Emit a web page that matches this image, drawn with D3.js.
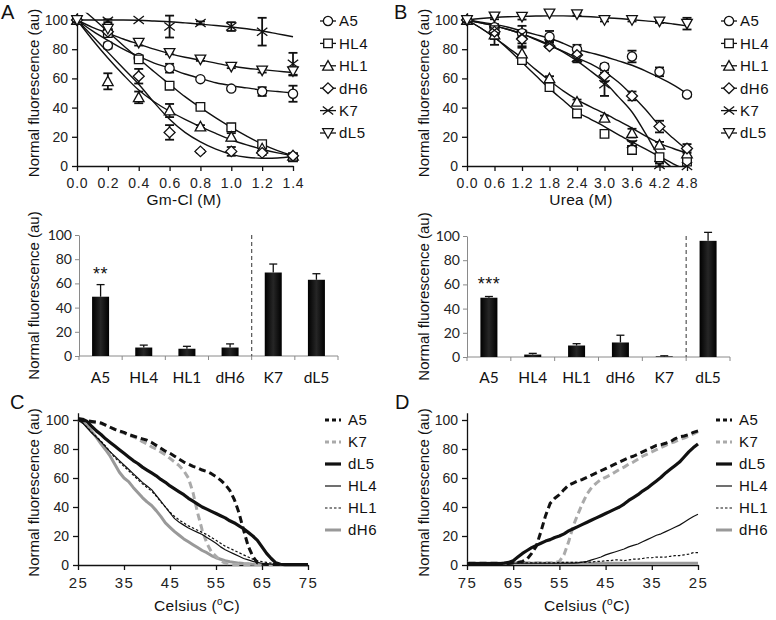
<!DOCTYPE html>
<html><head><meta charset="utf-8">
<script src="https://cdn.jsdelivr.net/npm/d3@7"></script>
<style>
body{margin:0;background:#fff;}
svg text{font-family:"Liberation Sans",Arial,sans-serif;fill:#111;}
</style></head><body>
<svg id="fig" width="776" height="620"></svg>
<script>
// ---------------- DATA ----------------
const seriesNames = ["A5","HL4","HL1","dH6","K7","dL5"];

// Panel A (Gm-Cl titration)
const gmConc   = [0,0.2,0.4,0.6,0.8,1.0,1.2,1.4];
const gmA5     = [100,82.5,74,67,59.5,53,51,49.5];
const gmA5Err  = [0,2,1.5,3,1,1,3,5.5];
const gmHL4    = [100,91,73,55,40.5,26.5,15,6];
const gmHL4Err = [0,2,2,1.5,1,1.5,1.5,1.5];
const gmHL1    = [100,58,47,38,27,20,12,7];
const gmHL1Err = [0,5.5,4,4.5,1,2.5,1.5,1.5];
const gmDH6    = [100,92,61.5,23,10,10,9,7];
const gmDH6Err = [0,1,5,5,1,3,1.5,1];
const gmK7     = [100,99.5,100,95.5,98,95.5,92,70];
const gmK7Err  = [0,1,0.5,7.5,1,3,9.5,7.5];
const gmDL5    = [100,94,84.5,77.5,73,68,65.5,65];
const gmDL5Err = [0,2,2,1,1,1,1.5,3];
const gmFitX   = [0,0.1,0.2,0.3,0.4,0.5,0.6,0.7,0.8,0.9,1.0,1.1,1.2,1.3,1.4];
const gmFitA5  = [100,92.5,86,80,75,70.5,67,63,60,57,55,53.5,52,51,50];
const gmFitHL4 = [110.5,101.5,92,82.5,73.5,64.5,56,47.5,40,33,26.5,20.5,15,10.5,7];
const gmFitHL1 = [100,86.5,74,62.5,52,44,37.5,32,27,22.3,18,14.5,11.5,9,7];
const gmFitDH6 = [100,89,78,67,56,43.5,32,23,16.5,11.5,8,6,5.3,5.5,6.5];
const gmFitK7  = [100,100,100,100,99.8,99.3,98.8,98,97.2,96.2,95.2,94,92.5,90.5,88.5];
const gmFitDL5 = [100,95,91,87,83.5,80,77,74.5,72.5,70.5,68.5,67,66,65,64];
const gmTicks  = [0,0.2,0.4,0.6,0.8,1.0,1.2,1.4];

// Panel B (Urea titration)
const ureaConc   = [0,0.6,1.2,1.8,2.4,3.0,3.6,4.2,4.8];
const ureaA5     = [100,95,91,88.5,80,68,75,64.5,49];
const ureaA5Err  = [0,2,2,4,3,2,4,3,1.5];
const ureaHL4    = [100,93,72.5,54,36,22,11,6,3];
const ureaHL4Err = [0,4,2,1,2,1,1,1,1];
const ureaHL1    = [100,90,77,60,44,33,22.5,14.5,8.5];
const ureaHL1Err = [0,3,4,1.5,1.5,1.5,3,2,2];
const ureaDH6    = [100,92,87,82,76,62,48,27,12];
const ureaDH6Err = [0,3,5,1,4,4,3,4,3];
const ureaK7     = [100,93,90,84,74,56,15,0.7,0];
const ureaK7Err  = [0,10,6,1,3,8,2,1,0.5];
const ureaDL5    = [100,102.5,102.3,104.5,104,100,100,99,97.5];
const ureaDL5Err = [0,2,2,0.5,1,1,1,1,4];
const ureaFitX   = [0,0.3,0.6,0.9,1.2,1.5,1.8,2.1,2.4,2.7,3.0,3.3,3.6,3.9,4.2,4.5,4.8];
const ureaFitA5  = [100,98.5,97,95,92.5,90,87.5,84,80,77.5,75,72,69,65,60.5,55.5,49.5];
const ureaFitHL4 = [100,94.5,88,80,71,62,53,45,37,32,27,21.5,16.5,11.5,6.5,1.5,-3];
const ureaFitHL1 = [100,94.5,88,81,74,66,58.5,51.5,45.5,40.5,36,31,26,20.5,15.5,12,8.7];
const ureaFitDH6 = [100,98,96,93.5,90.5,86.5,82.5,78.5,74,70,64.5,57.5,48.5,38.5,27.5,19,11];
const ureaFitK7  = [100,98,96,93.5,90.5,87,83,78,72,65,57.5,47.5,37,22,6.5,-2,-12];
const ureaFitDL5 = [100,101,101.7,102.2,102.5,102.7,102.8,102.8,102.6,102.2,101.6,101,100.2,99.4,98.5,97.3,96];
const ureaTicks  = [0,0.6,1.2,1.8,2.4,3.0,3.6,4.2,4.8];

// Bar panels
const barCats     = ["A5","HL4","HL1","dH6","K7","dL5"];
const gmBar       = [49,7,6,7,69,63];
const gmBarErr    = [10,2,2,3,7,5];
const gmBarSig    = ["**","","","","",""];
const ureaBar     = [49,2,9.5,12,0.5,96];
const ureaBarErr  = [1,1,1.5,6,0.5,7];
const ureaBarSig  = ["***","","","","",""];
const barTicks    = [0,20,40,60,80,100];

// Thermal panels (temperature grid, °C)
const temps = [25,26,27,28,29,30,31,32,33,34,35,36,37,38,39,40,41,42,43,44,45,46,47,48,49,50,
               51,52,53,54,55,56,57,58,59,60,61,62,63,64,65,66,67,68,69,70,71,72,73,74,75];
const thermLegend = ["A5","K7","dL5","HL4","HL1","dH6"];
// C: melting
const meltA5  = [100,99.5,99.5,99,98.5,98,96.5,95,93.5,92.5,91.5,90,89,88,87,86,84.5,82.5,80.5,78.5,77,75,73,71,69.5,68,
                 67,65.5,64.5,63,61,58.5,55.5,51.5,45,36,24,13,6,1.5,0.5,0.3,0.3,0.3,0.3,0.3,0.3,0.3,0.3,0.3,0.3];
const meltK7  = [100,99.5,99,98.5,98,97.5,96.5,95,93.5,92,91,89.5,88.5,87,85,83.5,81.5,80,78,76,73.5,71,68.5,65,60,50,
                 36,24,15,9,6,3,1.3,0.5,0.3,0.3,0.3,0.3,0.3,0.3,0.3,0.3,0.3,0.3,0.3,0.3,0.3,0.3,0.3,0.3,0.3];
const meltDL5 = [101,100.5,99,95.5,92.5,90,87,84.5,82,79.5,77,74.5,72,70,67.5,65.5,63.5,61.5,59,57,54.5,52.5,50.5,48.5,46,44,
                 42,40,38.5,37,35.5,34,32.5,30.5,29,27,25,22.5,20,17,12.5,8,4.5,1.5,0.5,0.3,0.3,0.3,0.3,0.3,0.3];
const meltHL4 = [100,98,94.5,91,88,85,81.5,78,75,72,69,66,63,60,57,54.5,52,48,44,40,36,32,29.5,27.5,25.5,24,
                 22.5,21,19,17,15,12.5,10.5,9,7.5,6,4.5,3.5,2.5,1.8,1.2,0.8,0.5,0.3,0.3,0.3,0.3,0.3,0.3,0.3,0.3];
const meltHL1 = [100,98,95,91.5,88.5,85.5,82,78,74,71,68,65,62,59,56,53.5,51,47.5,43.5,40,36.5,33.5,31,29,27,25.5,
                 24,22.5,21,19,17,15,13,11.5,10,8.5,7,5.5,4,3,2.3,1.8,1.3,1,0.8,0.8,0.8,0.8,1,0.8,0.8];
const meltDH6 = [100,98.5,96,92,88,83.5,79.5,75,69.5,64,60,57.5,53.5,50,46.5,43.5,41,37.5,33.5,29,26,23,20.5,18,16,14,
                 12,10,8.5,6.5,5,4,3,2.3,1.8,1.3,1,0.8,0.6,0.5,0.3,0.3,0.3,0.3,0.3,0.3,0.3,0.3,0.3,0.3,0.3];
// D: refolding (cooling 75 -> 25), values listed by temps
const foldA5  = [92.5,91.5,90,89,88.5,87,85,84,83,82.5,81,79.5,78,76.5,75,74,72.5,71,69.5,68,66.5,65,63.5,62,60.5,59,
                 58,56.5,55,52,48.5,46,42.5,34,23,13,8,4,2.5,1.8,1.3,1,1,1,1,1,1,1,1,1,1];
const foldK7  = [92,90.5,89,87.5,86.5,85,84,82.5,81,79.5,78,76.5,75,73,71,69.5,67.5,66,64,62,60.5,59,56.5,53.5,49,42.5,
                 35,27,16,7,2.5,1.5,1.5,1.5,1.5,1.5,1.5,1.5,1.5,1.5,1.5,1.5,1.5,1.5,1.5,1.5,1.5,1.5,1.5,1.5,1.5];
const foldDL5 = [83.5,81,78,74.5,71,68.5,66,63.5,60.5,58,55.5,53,51,48.5,46.5,44.5,42,40,38.5,37,35.5,34,32.5,31,29.5,28,
                 26.5,25,23.5,21.5,20,19,17.5,16.5,15,13.5,12,10,8,5.5,3,1.8,1.2,1,1,1,1,1,1,1,1];
const foldHL4 = [35,33.5,31.5,29.5,27.5,26,24.5,23,21.5,20.5,19,17.5,16,14.5,13.5,12.5,11,10,9,8,7,5.5,4.5,3.5,2.5,2,
                 1.5,1.3,1.2,1.2,1.2,1.2,1.2,1.2,1.2,1.2,1.2,1.2,1.2,1.2,1.2,1.2,1.2,1.2,1.2,1.2,1.2,1.2,1.2,1.2,1.2];
const foldHL1 = [8.5,8.5,7.5,7,6.5,6.5,6,5.5,5.5,5.5,5,5,4.5,4,4,3.5,3,3.5,3.5,3,3,2.5,2.5,2,2,1.8,
                 1.8,1.8,1.8,1.8,1.8,1.5,1.5,1.5,1.5,1.5,1.5,1.5,1.5,1.5,1.5,1.5,1.5,1.5,1.5,1.5,1.5,1.5,1.5,1.5,1.5];
const foldDH6 = [1.2,1.2,1.2,1.2,1.2,1.2,1.2,1.2,1.2,1.2,1.2,1.2,1.2,1.2,1.2,1.2,1.2,1.2,1.2,1.2,1.2,1.2,1.2,1.2,1.2,1.2,
                 1.2,1.2,1.2,1.2,1.2,1.2,1.2,1.2,1.2,1.2,1.2,1.2,1.2,1.2,1.2,1.2,1.2,1.2,1.2,1.2,1.2,1.2,1.2,1.2,1.2];
const cTicks = [25,35,45,55,65,75];
const dTicks = [75,65,55,45,35,25];

// ---------------- DRAWING ----------------
const svg = d3.select("#fig");
const defs = svg.append("defs");

const MARKERS = {
  circle:  "M-4.6,0A4.6,4.6 0 1,0 4.6,0A4.6,4.6 0 1,0 -4.6,0Z",
  square:  "M-4.3,-4.3H4.3V4.3H-4.3Z",
  triUp:   "M0,-5.2L5.3,4.3H-5.3Z",
  diamond: "M0,-5.3L5.5,0L0,5.3L-5.5,0Z",
  cross:   "M-5.2,-4L5.2,4M-5.2,4L5.2,-4",
  triDown: "M0,5.2L5.3,-4.3H-5.3Z"
};
const markerOf = {A5:"circle",HL4:"square",HL1:"triUp",dH6:"diamond",K7:"cross",dL5:"triDown"};

function styleAxis(g, size, color, family){
  g.attr("font-size", null).attr("font-family", null);
  g.selectAll("path.domain").attr("stroke", color).attr("stroke-width", 1.3);
  g.selectAll(".tick line").attr("stroke", color).attr("stroke-width", 1.3);
  g.selectAll(".tick text").attr("font-size", size).style("fill", "#222");
  if (family) g.selectAll(".tick text").style("font-family", family);
}

function drawTop(o){
  const g = svg.append("g");
  const x = d3.scaleLinear().domain([0, o.xMax]).range(o.xr);
  const y = d3.scaleLinear().domain([0, 105]).range([166, 166 - 1.46 * 105]);
  const cid = "clip" + o.id;
  defs.append("clipPath").attr("id", cid).append("rect")
    .attr("x", o.xr[0] - 3).attr("y", y(105)).attr("width", o.xr[1] - o.xr[0] + 6).attr("height", y(0) - y(105));

  const ya = g.append("g").attr("transform", `translate(${o.xr[0]},0)`)
    .call(d3.axisLeft(y).tickValues([0,20,40,60,80,100]).tickSize(5).tickPadding(4).tickSizeOuter(0));
  styleAxis(ya, 14, "#111");
  const xa = g.append("g").attr("transform", `translate(0,${y(0)})`)
    .call(d3.axisBottom(x).tickValues(o.ticks).tickFormat(d3.format(".1f")).tickSize(5).tickPadding(7).tickSizeOuter(0));
  styleAxis(xa, 14, "#111");
  xa.selectAll(".tick text").style("letter-spacing", "0.8px");

  const line = d3.line().x(d => x(d[0])).y(d => y(d[1])).curve(d3.curveCatmullRom);
  o.series.forEach(s => {
    g.append("path").datum(o.fitX.map((v, i) => [v, s.fit[i]]))
      .attr("clip-path", `url(#${cid})`).attr("d", line)
      .attr("fill", "none").attr("stroke", "#111").attr("stroke-width", 1.4);
  });
  o.series.forEach(s => {
    const pts = o.conc.map((c, i) => ({c, v: s.vals[i], e: s.err[i]}));
    const eg = g.append("g").attr("stroke", "#111").attr("stroke-width", 1.8);
    pts.filter(p => p.e > 0.8).forEach(p => {
      eg.append("line").attr("x1", x(p.c)).attr("x2", x(p.c)).attr("y1", y(p.v - p.e)).attr("y2", y(p.v + p.e));
      [p.v - p.e, p.v + p.e].forEach(v => eg.append("line")
        .attr("x1", x(p.c) - 4.5).attr("x2", x(p.c) + 4.5).attr("y1", y(v)).attr("y2", y(v)));
    });
  });
  o.series.forEach(s => {
    const mk = markerOf[s.name];
    g.append("g").selectAll("path").data(o.conc.map((c, i) => [c, s.vals[i]])).join("path")
      .attr("transform", d => `translate(${x(d[0])},${y(d[1])})`)
      .attr("d", MARKERS[mk]).attr("fill", mk === "cross" ? "none" : "#fff")
      .attr("stroke", "#111").attr("stroke-width", 1.3);
  });
  // legend
  const lg = g.append("g");
  o.series.forEach((s, i) => {
    const yy = 21 + i * 22.4;
    lg.append("line").attr("x1", o.lx - 8).attr("x2", o.lx + 8).attr("y1", yy).attr("y2", yy)
      .attr("stroke", "#111").attr("stroke-width", 1.3);
    const mk = markerOf[s.name];
    lg.append("path").attr("transform", `translate(${o.lx},${yy})`).attr("d", MARKERS[mk])
      .attr("fill", mk === "cross" ? "none" : "#fff").attr("stroke", "#111").attr("stroke-width", 1.3);
    lg.append("text").attr("x", o.lx + 11).attr("y", yy).attr("dy", "0.36em")
      .attr("font-size", 15).style("letter-spacing", "0.5px").text(s.name);
  });
  g.append("text").attr("transform", `translate(${o.ylx},${(y(0)+y(100))/2}) rotate(-90)`)
    .attr("text-anchor", "middle").attr("font-size", 15).text("Normal fluorescence (au)");
  g.append("text").attr("x", o.xlc).attr("y", 205).attr("text-anchor", "middle")
    .attr("font-size", 15.5).style("letter-spacing", "0.3px").text(o.xLabel);
}

drawTop({id:"A", xMax:1.4, xr:[77,293], ticks:gmTicks, conc:gmConc, fitX:gmFitX, lx:328, ylx:39, xlc:184,
  xLabel:"Gm-Cl (M)",
  series:[
    {name:"A5",  vals:gmA5,  err:gmA5Err,  fit:gmFitA5},
    {name:"HL4", vals:gmHL4, err:gmHL4Err, fit:gmFitHL4},
    {name:"HL1", vals:gmHL1, err:gmHL1Err, fit:gmFitHL1},
    {name:"dH6", vals:gmDH6, err:gmDH6Err, fit:gmFitDH6},
    {name:"K7",  vals:gmK7,  err:gmK7Err,  fit:gmFitK7},
    {name:"dL5", vals:gmDL5, err:gmDL5Err, fit:gmFitDL5}
  ]});

drawTop({id:"B", xMax:4.8, xr:[467,687], ticks:ureaTicks, conc:ureaConc, fitX:ureaFitX, lx:729, ylx:429, xlc:581,
  xLabel:"Urea (M)",
  series:[
    {name:"A5",  vals:ureaA5,  err:ureaA5Err,  fit:ureaFitA5},
    {name:"HL4", vals:ureaHL4, err:ureaHL4Err, fit:ureaFitHL4},
    {name:"HL1", vals:ureaHL1, err:ureaHL1Err, fit:ureaFitHL1},
    {name:"dH6", vals:ureaDH6, err:ureaDH6Err, fit:ureaFitDH6},
    {name:"K7",  vals:ureaK7,  err:ureaK7Err,  fit:ureaFitK7},
    {name:"dL5", vals:ureaDL5, err:ureaDL5Err, fit:ureaFitDL5}
  ]});

// bar gradient
const grad = defs.append("linearGradient").attr("id", "barGrad").attr("x1", "0").attr("x2", "1").attr("y1", "0").attr("y2", "0");
grad.append("stop").attr("offset", "0%").attr("stop-color", "#000");
grad.append("stop").attr("offset", "50%").attr("stop-color", "#262626");
grad.append("stop").attr("offset", "100%").attr("stop-color", "#000");

function drawBars(o){
  const g = svg.append("g");
  const x = d3.scaleBand().domain(barCats).range(o.xr).padding(0);
  const y = d3.scaleLinear().domain([0, 100]).range([o.y0, o.y1]);
  const ya = g.append("g").attr("transform", `translate(${o.xr[0]},0)`)
    .call(d3.axisLeft(y).tickValues(barTicks).tickSize(4).tickPadding(3).tickSizeOuter(0));
  styleAxis(ya, 14, "#8a8a8a", "Lato, 'Open Sans', sans-serif");
  ya.selectAll("path.domain, .tick line").attr("stroke-width", 1);
  const xa = g.append("g").attr("stroke", "#8a8a8a").attr("stroke-width", 1);
  xa.append("line").attr("x1", o.xr[0]).attr("x2", o.xr[1]).attr("y1", y(0)).attr("y2", y(0));
  barCats.concat(["__end"]).forEach((c, i) => {
    const xx = i < barCats.length ? x(c) : o.xr[1];
    xa.append("line").attr("x1", xx).attr("x2", xx).attr("y1", y(0)).attr("y2", y(0) + 4);
  });
  g.append("line").attr("x1", x(o.sep)).attr("x2", x(o.sep)).attr("y1", y(100)).attr("y2", y(0))
    .attr("stroke", "#555").attr("stroke-width", 1.2).attr("stroke-dasharray", "4,3");
  const bw = 17;
  barCats.forEach((c, i) => {
    const cx = x(c) + x.bandwidth() / 2;
    const v = o.vals[i], e = o.err[i];
    g.append("rect").attr("x", cx - bw / 2).attr("y", y(v)).attr("width", bw).attr("height", y(0) - y(v))
      .attr("fill", "url(#barGrad)");
    if (e > 0) {
      g.append("line").attr("x1", cx).attr("x2", cx).attr("y1", y(v)).attr("y2", y(v + e)).attr("stroke", "#111").attr("stroke-width", 1.3);
      g.append("line").attr("x1", cx - 4).attr("x2", cx + 4).attr("y1", y(v + e)).attr("y2", y(v + e)).attr("stroke", "#111").attr("stroke-width", 1.3);
    }
    if (o.sig[i]) g.append("text").attr("x", cx).attr("y", o.sigY).attr("text-anchor", "middle")
      .attr("font-size", 18).style("letter-spacing", "0.5px").text(o.sig[i]);
    g.append("text").attr("x", cx).attr("y", 383).attr("text-anchor", "middle")
      .style("font-family", "Lato, sans-serif").attr("font-size", 15.5).text(c);
  });
  g.append("text").attr("transform", `translate(${o.ylx},${(y(0)+y(100))/2}) rotate(-90)`)
    .attr("text-anchor", "middle").attr("font-size", 15).text("Normal fluorescence (au)");
}

drawBars({xr:[79,338], y0:356, y1:235, vals:gmBar, err:gmBarErr, sig:gmBarSig, sigY:280, sep:"K7", ylx:39});
drawBars({xr:[467,730], y0:357, y1:236, vals:ureaBar, err:ureaBarErr, sig:ureaBarSig, sigY:290, sep:"dL5", ylx:429});

const thermStyle = {
  A5:  {stroke:"#111", w:3, dash:"7,4"},
  K7:  {stroke:"#aaa", w:3, dash:"7,4"},
  dL5: {stroke:"#111", w:3.2, dash:null},
  HL4: {stroke:"#111", w:1.2, dash:null},
  HL1: {stroke:"#111", w:1.2, dash:"2.5,2"},
  dH6: {stroke:"#999", w:3, dash:null}
};

function drawTherm(o){
  const g = svg.append("g");
  const x = d3.scaleLinear().domain(o.xDomain).range(o.xr);
  const y = d3.scaleLinear().domain([0, 105]).range([565, 565 - 1.45 * 105]);
  const ya = g.append("g").attr("transform", `translate(${o.xr[0]},0)`)
    .call(d3.axisLeft(y).tickValues([0,20,40,60,80,100]).tickSize(5).tickPadding(4).tickSizeOuter(0));
  styleAxis(ya, 14, "#111");
  const xa = g.append("g").attr("transform", `translate(0,${y(0)})`)
    .call(d3.axisBottom(x).tickValues(o.ticks).tickSize(5).tickPadding(7).tickSizeOuter(0));
  styleAxis(xa, 15, "#111");
  xa.selectAll(".tick text").style("letter-spacing", "1.5px");
  const line = d3.line().x(d => x(d[0])).y(d => y(d[1]));
  ["dH6","K7","HL1","HL4","dL5","A5"].forEach(n => {
    const st = thermStyle[n];
    g.append("path").datum(temps.map((t, i) => [t, o.data[n][i]])).attr("d", line)
      .attr("fill", "none").attr("stroke", st.stroke).attr("stroke-width", st.w)
      .attr("stroke-dasharray", st.dash).attr("stroke-linejoin", "round");
  });
  thermLegend.forEach((n, i) => {
    const st = thermStyle[n];
    const yy = 420 + i * 22;
    g.append("line").attr("x1", o.lx).attr("x2", o.lx + 16).attr("y1", yy).attr("y2", yy)
      .attr("stroke", st.stroke).attr("stroke-width", st.w).attr("stroke-dasharray", st.dash ? (n === "HL1" ? "2.5,2" : "4,3") : null);
    g.append("text").attr("x", o.lx + 23).attr("y", yy).attr("dy", "0.36em").attr("font-size", 15)
      .style("letter-spacing", "0.5px").text(n);
  });
  g.append("text").attr("transform", `translate(${o.ylx},${(y(0)+y(100))/2}) rotate(-90)`)
    .attr("text-anchor", "middle").attr("font-size", 15).text("Normal fluorescence (au)");
  const xl = g.append("text").attr("x", o.xlc).attr("y", 611).attr("text-anchor", "middle").attr("font-size", 15.5)
    .style("letter-spacing", "0.3px");
  xl.append("tspan").text("Celsius (");
  xl.append("tspan").attr("font-size", 10).attr("dy", -6).text("o");
  xl.append("tspan").attr("dy", 6).text("C)");
}

drawTherm({xDomain:[25,75], xr:[78,308], ticks:cTicks, lx:325, ylx:39, xlc:197,
  data:{A5:meltA5, K7:meltK7, dL5:meltDL5, HL4:meltHL4, HL1:meltHL1, dH6:meltDH6}});
drawTherm({xDomain:[75,25], xr:[467,698], ticks:dTicks, lx:716, ylx:429, xlc:587,
  data:{A5:foldA5, K7:foldK7, dL5:foldDL5, HL4:foldHL4, HL1:foldHL1, dH6:foldDH6}});

// panel letters
[["A",1,19],["B",394,19],["C",10,409],["D",395,409]].forEach(([t,xx,yy]) =>
  svg.append("text").attr("x", xx).attr("y", yy).attr("font-size", 20).text(t));
</script></body></html>
